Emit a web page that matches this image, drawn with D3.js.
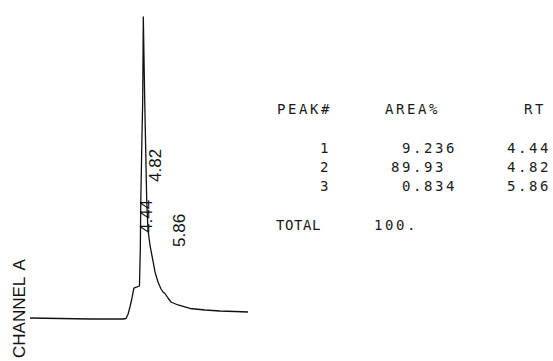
<!DOCTYPE html>
<html>
<head>
<meta charset="utf-8">
<script src="https://cdn.jsdelivr.net/npm/d3@7"></script>
<style>
  html, body { margin: 0; padding: 0; background: #fff; }
  svg { display: block; }
</style>
</head>
<body>
<div id="chart"></div>
<script>
// Detector trace: time (min) and signal (% of full scale)
const traceTime = [0, 1.29, 2.59, 4.01, 4.14, 4.23, 4.31, 4.38, 4.44, 4.48, 4.61, 4.72,
  4.756, 4.778, 4.817, 4.86, 4.886, 4.946, 4.989, 5.032, 5.088, 5.174, 5.261, 5.39,
  5.519, 5.649, 5.735, 5.821, 5.951, 6.08, 6.38, 6.9, 7.55, 8.19, 8.84, 9.4];
const traceSignal = [0.33, 0.17, 0, 0, 0.17, 1.66, 3.97, 6.29, 8.61, 10.26, 10.6, 10.93,
  22.85, 39.4, 55.96, 72.5, 100, 72.5, 55.96, 39.4, 29.5, 24.5, 20.9, 15.6,
  12.25, 9.93, 8.94, 8.44, 6.95, 5.63, 4.64, 3.48, 2.98, 2.65, 2.48, 2.32];

// Integration report
const peakNumbers = ['1', '2', '3'];
const areaPercent = ['9.236', '89.93', '0.834'];
const retentionTimes = ['4.44', '4.82', '5.86'];
const totalArea = '100.';
const headers = ['PEAK#', 'AREA%', 'RT'];
const channelLabel = 'CHANNEL A';

const width = 553, height = 361;

const svg = d3.select('#chart')
  .append('svg')
  .attr('width', width)
  .attr('height', height);

const x = d3.scaleLinear().domain([0, 9.4]).range([30, 248]);
const y = d3.scaleLinear().domain([0, 100]).range([319, 17]);

const points = traceTime.map((t, i) => ({ t, s: traceSignal[i] }));

const line = d3.line()
  .x(d => x(d.t))
  .y(d => y(d.s));

svg.append('path')
  .datum(points)
  .attr('fill', 'none')
  .attr('stroke', '#111')
  .attr('stroke-width', 1.3)
  .attr('stroke-linejoin', 'round')
  .attr('d', line);

// retention time labels, printed rotated beside the peaks
const labelLift = [86, 137, 72]; // px above baseline where each label starts
svg.selectAll('.rt-label')
  .data(retentionTimes)
  .enter()
  .append('text')
  .attr('class', 'rt-label')
  .attr('transform', (d, i) => `translate(${x(+d) + 19.5},${y(0) - labelLift[i]}) rotate(-90)`)
  .attr('font-family', 'Liberation Sans, Arial, sans-serif')
  .attr('font-size', 17)
  .attr('fill', '#111')
  .text(d => d);

svg.append('text')
  .attr('transform', `translate(25,358) rotate(-90)`)
  .attr('font-family', 'Liberation Sans, Arial, sans-serif')
  .attr('font-size', 17)
  .attr('fill', '#111')
  .attr('word-spacing', 3)
  .text(channelLabel);

// report table
const mono = g => g
  .attr('font-family', 'DejaVu Sans Mono, monospace')
  .attr('font-size', 14)
  .attr('letter-spacing', 2.6)
  .attr('fill', '#1a1a1a');

const table = svg.append('g').call(mono);

table.append('text').attr('x', 277).attr('y', 114).text(headers[0]);
table.append('text').attr('x', 385).attr('y', 114).text(headers[1]);
table.append('text').attr('x', 546).attr('y', 114).attr('text-anchor', 'end').text(headers[2]);

const rowY = d3.scalePoint().domain(peakNumbers).range([153, 191]);
const pitch = 11;

table.selectAll('.pk')
  .data(peakNumbers)
  .enter()
  .append('text')
  .attr('x', 320)
  .attr('y', d => rowY(d))
  .text(d => d);

table.selectAll('.area')
  .data(areaPercent)
  .enter()
  .append('text')
  .attr('x', d => 413 - d.indexOf('.') * pitch)
  .attr('y', (d, i) => rowY(peakNumbers[i]))
  .text(d => d);

table.selectAll('.rt')
  .data(retentionTimes)
  .enter()
  .append('text')
  .attr('x', 551)
  .attr('y', (d, i) => rowY(peakNumbers[i]))
  .attr('text-anchor', 'end')
  .text(d => d);

table.append('text').attr('x', 276).attr('y', 230).attr('letter-spacing', 0.6).text('TOTAL');
table.append('text').attr('x', 374).attr('y', 230).text(totalArea);
</script>
</body>
</html>
